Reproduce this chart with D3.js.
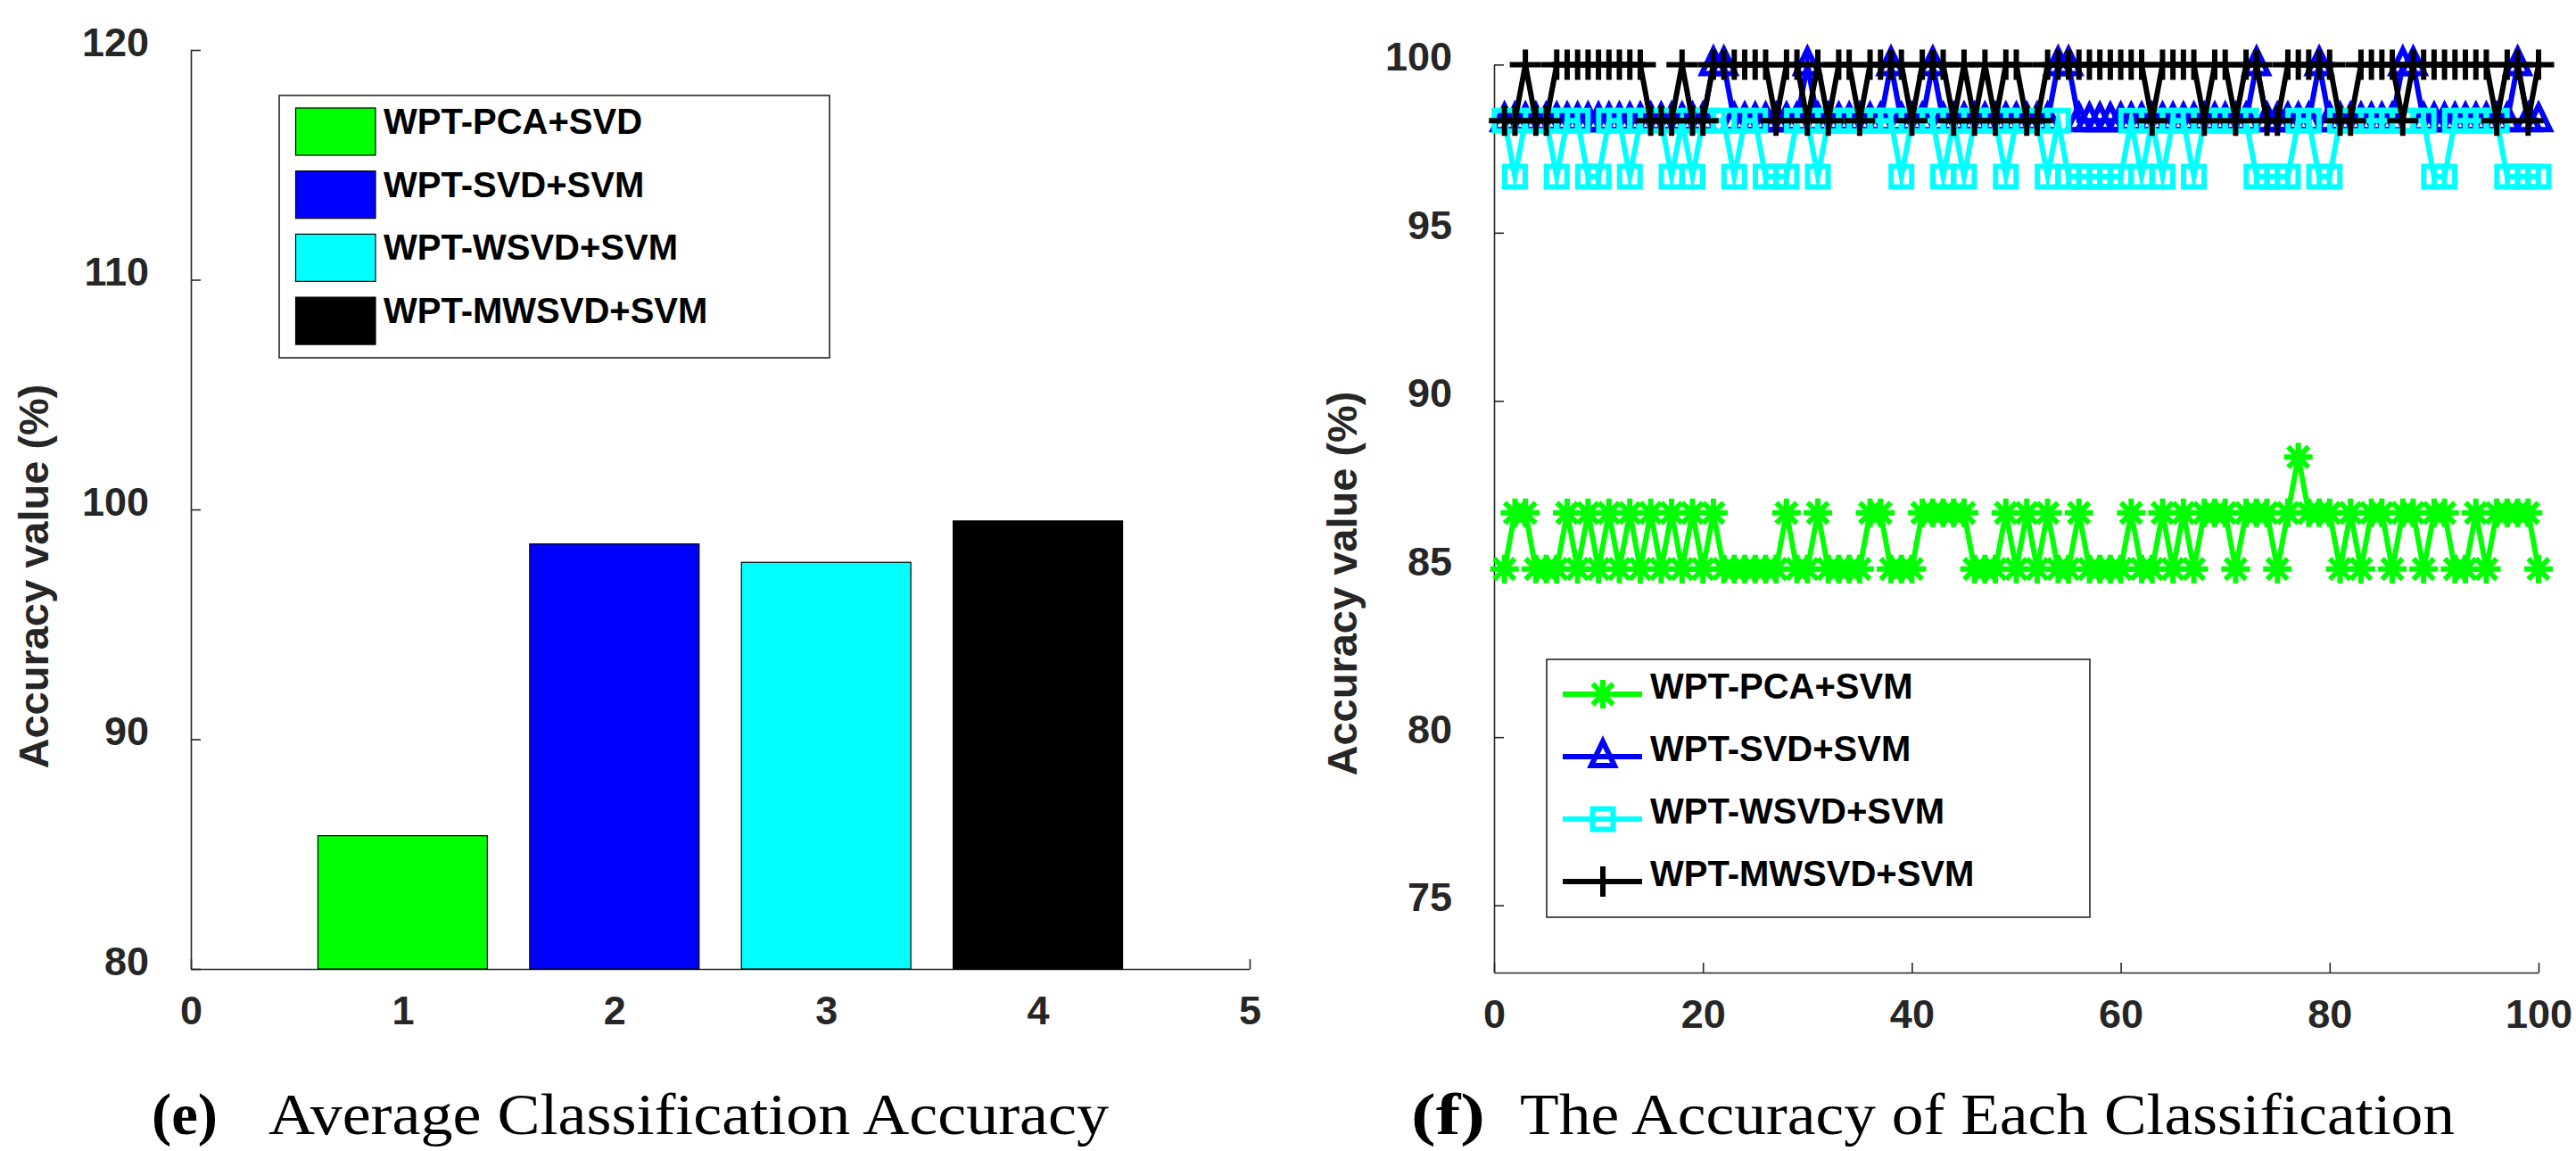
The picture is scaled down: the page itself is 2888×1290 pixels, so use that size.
<!DOCTYPE html>
<html>
<head>
<meta charset="utf-8">
<script src="https://cdn.jsdelivr.net/npm/d3@7"></script>
<style>
  body { margin: 0; background: #fff; }
</style>
</head>
<body>
<svg id="chart" width="2888" height="1290"></svg>
<script>
// ---- data ----
const barCats = [1, 2, 3, 4];
const barValues = [85.8, 98.5, 97.7, 99.5];
const barNames = ["WPT-PCA+SVD", "WPT-SVD+SVM", "WPT-WSVD+SVM", "WPT-MWSVD+SVM"];
const lineNames = ["WPT-PCA+SVM", "WPT-SVD+SVM", "WPT-WSVD+SVM", "WPT-MWSVD+SVM"];
const colors = ["#00ff00", "#0000ff", "#00ffff", "#000000"];

const barXTicks = [0, 1, 2, 3, 4, 5];
const barYTicks = [80, 90, 100, 110, 120];
const lineXTicks = [0, 20, 40, 60, 80, 100];
const lineYTicks = [75, 80, 85, 90, 95, 100];

const runs = d3.range(1, 101);

const pcaAcc = [
  85, 86.67, 86.67, 85, 85, 85, 86.67, 85, 86.67, 85,
  86.67, 85, 86.67, 85, 86.67, 85, 86.67, 85, 86.67, 85,
  86.67, 85, 85, 85, 85, 85, 85, 86.67, 85, 85,
  86.67, 85, 85, 85, 85, 86.67, 86.67, 85, 85, 85,
  86.67, 86.67, 86.67, 86.67, 86.67, 85, 85, 85, 86.67, 85,
  86.67, 85, 86.67, 85, 85, 86.67, 85, 85, 85, 85,
  86.67, 85, 85, 86.67, 85, 86.67, 85, 86.67, 86.67, 86.67,
  85, 86.67, 86.67, 86.67, 85, 86.67, 88.33, 86.67, 86.67, 86.67,
  85, 86.67, 85, 86.67, 86.67, 85, 86.67, 86.67, 85, 86.67,
  86.67, 85, 85, 86.67, 85, 86.67, 86.67, 86.67, 86.67, 85
];

const svdAcc = [
  98.33, 98.33, 98.33, 98.33, 98.33, 98.33, 98.33, 98.33, 98.33, 98.33,
  98.33, 98.33, 98.33, 98.33, 98.33, 98.33, 98.33, 98.33, 98.33, 98.33,
  100, 100, 98.33, 98.33, 98.33, 98.33, 98.33, 98.33, 98.33, 100,
  98.33, 98.33, 98.33, 98.33, 98.33, 98.33, 98.33, 100, 98.33, 98.33,
  98.33, 100, 98.33, 98.33, 98.33, 98.33, 98.33, 98.33, 98.33, 98.33,
  98.33, 98.33, 98.33, 100, 100, 98.33, 98.33, 98.33, 98.33, 98.33,
  98.33, 98.33, 98.33, 98.33, 98.33, 98.33, 98.33, 98.33, 98.33, 98.33,
  98.33, 98.33, 100, 98.33, 98.33, 98.33, 98.33, 98.33, 100, 98.33,
  98.33, 98.33, 98.33, 98.33, 98.33, 98.33, 100, 100, 98.33, 98.33,
  98.33, 98.33, 98.33, 98.33, 98.33, 98.33, 98.33, 100, 98.33, 98.33
];

const wsvdAcc = [
  98.33, 96.67, 98.33, 98.33, 98.33, 96.67, 98.33, 98.33, 96.67, 96.67,
  98.33, 98.33, 96.67, 98.33, 98.33, 98.33, 96.67, 98.33, 96.67, 98.33,
  98.33, 98.33, 96.67, 98.33, 98.33, 96.67, 96.67, 96.67, 98.33, 98.33,
  96.67, 98.33, 98.33, 98.33, 98.33, 98.33, 98.33, 98.33, 96.67, 98.33,
  98.33, 98.33, 96.67, 98.33, 96.67, 98.33, 98.33, 98.33, 96.67, 98.33,
  98.33, 98.33, 96.67, 98.33, 96.67, 96.67, 96.67, 96.67, 96.67, 96.67,
  98.33, 96.67, 98.33, 96.67, 98.33, 98.33, 96.67, 98.33, 98.33, 98.33,
  98.33, 98.33, 96.67, 96.67, 96.67, 96.67, 98.33, 98.33, 96.67, 96.67,
  98.33, 98.33, 98.33, 98.33, 98.33, 98.33, 98.33, 98.33, 98.33, 96.67,
  96.67, 98.33, 98.33, 98.33, 98.33, 98.33, 96.67, 96.67, 96.67, 96.67
];

const mwsvdAcc = [
  98.33, 98.33, 100, 98.33, 98.33, 100, 100, 100, 100, 100,
  100, 100, 100, 100, 98.33, 98.33, 98.33, 100, 98.33, 98.33,
  100, 100, 100, 100, 100, 100, 98.33, 100, 100, 98.33,
  100, 98.33, 100, 100, 98.33, 100, 100, 100, 100, 98.33,
  100, 100, 100, 98.33, 100, 98.33, 100, 98.33, 100, 100,
  98.33, 98.33, 100, 100, 100, 100, 100, 100, 100, 100,
  100, 100, 98.33, 100, 100, 100, 100, 98.33, 100, 100,
  98.33, 100, 100, 98.33, 98.33, 100, 100, 100, 100, 100,
  98.33, 98.33, 100, 100, 100, 100, 98.33, 100, 100, 100,
  100, 100, 100, 100, 100, 98.33, 100, 100, 98.33, 100
];

const lineSeries = [pcaAcc, svdAcc, wsvdAcc, mwsvdAcc];

// ---- marker shapes (MATLAB style) ----
function asterisk(r) {
  const d = r * 0.72;
  return `M${-r},0H${r}M0,${-r}V${r}M${-d},${-d}L${d},${d}M${-d},${d}L${d},${-d}`;
}
function triangle() { return "M0,-17L13,10L-13,10Z"; }
function square(h) { return `M${-h},${-h}H${h}V${h}H${-h}Z`; }
function plus(r) { return `M${-r - 0.5},0H${r + 0.5}M0,${-r}V${r}`; }
const markers = [asterisk(16), triangle(), square(11.5), plus(17)];

const sans = "'Liberation Sans', Arial, sans-serif";
const serif = "'Liberation Serif', 'Times New Roman', serif";
const axisColor = "#262626";

const svg = d3.select("#chart").style("font-family", sans);

function styleAxis(g) {
  g.select(".domain").attr("stroke", axisColor).attr("stroke-width", 1.6);
  g.selectAll(".tick line").attr("stroke", axisColor).attr("stroke-width", 1.6);
  g.selectAll(".tick text")
    .attr("fill", axisColor)
    .style("font-size", "45px")
    .style("font-weight", "bold")
    .style("font-family", sans);
}

function drawAxes(x, y, xTicks, yTicks) {
  const gx = svg.append("g")
    .attr("transform", `translate(0,${y.range()[0]})`)
    .call(d3.axisBottom(x).tickValues(xTicks).tickFormat(d3.format("d"))
      .tickSizeInner(-11).tickSizeOuter(0).tickPadding(30));
  styleAxis(gx);
  const gy = svg.append("g")
    .attr("transform", `translate(${x.range()[0]},0)`)
    .call(d3.axisLeft(y).tickValues(yTicks).tickFormat(d3.format("d"))
      .tickSizeInner(-11).tickSizeOuter(0).tickPadding(47));
  styleAxis(gy);
  gy.selectAll(".tick text").attr("dy", "0.14em");
}

function yTitle(cx, cy) {
  svg.append("text")
    .attr("transform", `translate(${cx},${cy}) rotate(-90)`)
    .attr("text-anchor", "middle")
    .attr("dominant-baseline", "central")
    .style("font-size", "47px")
    .style("font-weight", "bold")
    .attr("fill", axisColor)
    .text("Accuracy value (%)");
}

function caption(x1, len1, tag, x2, len2, body) {
  svg.append("text")
    .attr("x", x1).attr("y", 1271)
    .style("font-family", serif)
    .style("font-size", "66px").style("font-weight", "bold")
    .attr("textLength", len1).attr("lengthAdjust", "spacingAndGlyphs")
    .text(tag);
  svg.append("text")
    .attr("x", x2).attr("y", 1271)
    .style("font-family", serif)
    .style("font-size", "66px")
    .attr("textLength", len2).attr("lengthAdjust", "spacingAndGlyphs")
    .text(body);
}

// ---- (e) bar chart ----
const xb = d3.scaleLinear().domain([0, 5]).range([214, 1401]);
const yb = d3.scaleLinear().domain([80, 120]).range([1086, 56]);
drawAxes(xb, yb, barXTicks, barYTicks);

svg.append("g").selectAll("rect")
  .data(barCats)
  .join("rect")
  .attr("x", d => xb(d - 0.4))
  .attr("width", xb(0.8) - xb(0))
  .attr("y", (d, i) => yb(barValues[i]))
  .attr("height", (d, i) => yb(80) - yb(barValues[i]))
  .attr("fill", (d, i) => colors[i])
  .attr("stroke", "#000")
  .attr("stroke-width", 1.2);

const legE = svg.append("g");
legE.append("rect")
  .attr("x", 313).attr("y", 107).attr("width", 617).attr("height", 294)
  .attr("fill", "#fff").attr("stroke", axisColor).attr("stroke-width", 1.6);
barNames.forEach((name, i) => {
  const top = 121 + i * 70.7;
  legE.append("rect")
    .attr("x", 331.5).attr("y", top).attr("width", 89.5).attr("height", 53)
    .attr("fill", colors[i]).attr("stroke", "#000").attr("stroke-width", 1.2);
  legE.append("text")
    .attr("x", 430).attr("y", top + 29)
    .style("font-size", "40px").style("font-weight", "bold")
    .text(name);
});

yTitle(37, 646);
caption(170, 74, "(e)", 301, 942, "Average Classification Accuracy");

// ---- (f) line chart ----
const xl = d3.scaleLinear().domain([0, 100]).range([1675, 2846]);
const yl = d3.scaleLinear().domain([73, 100]).range([1090, 72.4]);
drawAxes(xl, yl, lineXTicks, lineYTicks);

const line = d3.line().x((d, i) => xl(runs[i])).y(d => yl(d));

lineSeries.forEach((series, k) => {
  const g = svg.append("g");
  g.append("path")
    .datum(series)
    .attr("d", line)
    .attr("fill", "none")
    .attr("stroke", colors[k])
    .attr("stroke-width", 6)
    .attr("stroke-linejoin", "miter")
    .attr("stroke-miterlimit", 10);
  g.selectAll("path.mk")
    .data(series)
    .join("path")
    .attr("class", "mk")
    .attr("transform", (d, i) => `translate(${xl(runs[i])},${yl(d)})`)
    .attr("d", markers[k])
    .attr("fill", "none")
    .attr("stroke", colors[k])
    .attr("stroke-width", 6);
});

const legF = svg.append("g");
legF.append("rect")
  .attr("x", 1734).attr("y", 739).attr("width", 609).attr("height", 289)
  .attr("fill", "#fff").attr("stroke", axisColor).attr("stroke-width", 1.6);
lineNames.forEach((name, k) => {
  const ly = 778 + k * 70;
  legF.append("line")
    .attr("x1", 1752).attr("x2", 1841).attr("y1", ly).attr("y2", ly)
    .attr("stroke", colors[k]).attr("stroke-width", 6);
  legF.append("path")
    .attr("transform", `translate(1797,${ly})`)
    .attr("d", markers[k])
    .attr("fill", "none").attr("stroke", colors[k]).attr("stroke-width", 6);
  legF.append("text")
    .attr("x", 1850).attr("y", ly + 5)
    .style("font-size", "40px").style("font-weight", "bold")
    .text(name);
});

yTitle(1504, 654);
caption(1582, 83, "(f)", 1704, 1048, "The Accuracy of Each Classification");
</script>
</body>
</html>
